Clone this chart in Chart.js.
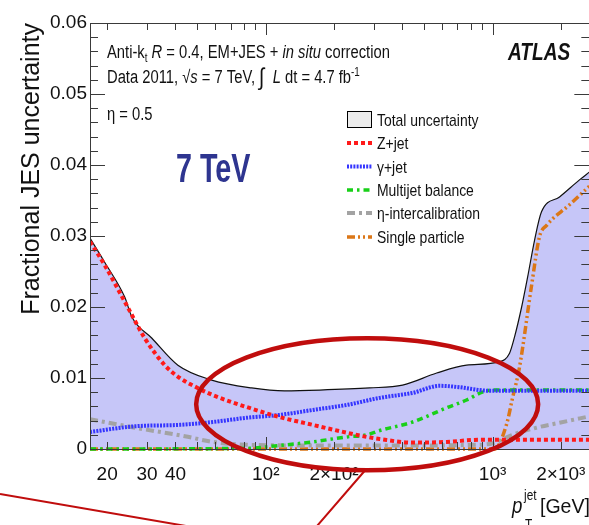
<!DOCTYPE html>
<html>
<head>
<meta charset="utf-8">
<script src="https://cdn.jsdelivr.net/npm/chart.js@4.4.1/dist/chart.umd.min.js"></script>
<style>
  html, body { margin: 0; padding: 0; background: #fff; overflow: hidden; }
  #wrap { width: 589px; height: 525px; overflow: hidden; }
</style>
</head>
<body>
<div id="wrap"><canvas id="jes" width="600" height="525"></canvas></div>
<script>
/* ===============================
   JES UNCERTAINTY COMPONENTS (eta = 0.5)
   pT in GeV, uncertainty as a fraction
================================ */
const totalPt  = [16.8, 19.5, 23.9, 25.7, 31.5, 41, 57.8, 86.7, 121, 173, 287, 401, 567, 768, 1074, 1188, 1250, 1343, 1427, 1531, 1643, 1973, 2416, 2670];
const totalUnc = [0.0297, 0.0263, 0.0214, 0.0186, 0.0156, 0.0118, 0.0097, 0.0086, 0.0082, 0.0083, 0.0086, 0.0090, 0.0107, 0.0118, 0.0123, 0.0135, 0.0158, 0.0200, 0.0242, 0.0294, 0.0334, 0.0355, 0.0379, 0.0390];

const zjetPt  = [16.8, 19.5, 24.7, 29.3, 35.9, 41.8, 50.1, 58.4, 82.5, 115, 161, 227, 279, 318, 444, 627, 877, 2670];
const zjetUnc = [0.0292, 0.0259, 0.0199, 0.0156, 0.0118, 0.0100, 0.0086, 0.0076, 0.0059, 0.0045, 0.0034, 0.0023, 0.0017, 0.0014, 0.0009, 0.0010, 0.0013, 0.0013];

const gjetPt  = [16.8, 26.5, 41.8, 58.4, 82.5, 115, 161, 227, 318, 444, 584, 715, 877, 970, 2670];
const gjetUnc = [0.0024, 0.0032, 0.0034, 0.0038, 0.0044, 0.0048, 0.0055, 0.0062, 0.0072, 0.0079, 0.0089, 0.0087, 0.0083, 0.0082, 0.0082];

const mjbPt  = [16.8, 82.5, 115, 161, 227, 279, 318, 444, 627, 768, 901, 1000, 2670];
const mjbUnc = [0, 0.0001, 0.0005, 0.0010, 0.0017, 0.0020, 0.0026, 0.0038, 0.0058, 0.0069, 0.0080, 0.0083, 0.0083];

const etaPt  = [16.8, 26.5, 44, 58.4, 82.5, 150, 400, 877, 1000, 1225, 1560, 1973, 2670];
const etaUnc = [0.0042, 0.0030, 0.0018, 0.0010, 0.0006, 0.0005, 0.0005, 0.0006, 0.0008, 0.0020, 0.0030, 0.0037, 0.0046];

const singlePt  = [16.8, 1020, 1153, 1225, 1314, 1485, 1610, 1730, 2183, 2670];
const singleUnc = [0, 0, 0.0035, 0.0072, 0.0115, 0.0230, 0.0299, 0.0315, 0.0344, 0.0370];

const seriesNames = ["Total uncertainty", "Z+jet", "\u03b3+jet", "Multijet balance", "\u03b7-intercalibration", "Single particle"];

const xTickValues = [20, 30, 40, 100, 200, 1000, 2000];
const xTickLabels = ["20", "30", "40", "10\u00b2", "2\u00d710\u00b2", "10\u00b3", "2\u00d710\u00b3"];

const SANS = '"Liberation Sans", Arial, Helvetica, sans-serif';
const RED_MARK = "#c00d0d";

function pts(xs, ys) {
  return xs.map((v, i) => ({ x: v, y: ys[i] }));
}

/* ===============================
   TEXT HELPER
   runs of text with sub/superscripts, squeezed by sx
================================ */
function drawRuns(ctx, x, y, runs, sx) {
  ctx.save();
  ctx.translate(x, y);
  ctx.scale(sx || 1, 1);
  let cx = 0;
  for (const r of runs) {
    ctx.font = r.f;
    ctx.fillText(r.t, cx, r.dy || 0);
    cx += ctx.measureText(r.t).width;
  }
  ctx.restore();
}

/* ===============================
   FRAME, INWARD TICKS
================================ */
const framePlugin = {
  id: "frame",
  afterDatasetsDraw(chart) {
    const { ctx, chartArea: a, scales: { x, y } } = chart;
    ctx.save();
    ctx.strokeStyle = "#3a3a3a";
    ctx.lineWidth = 1;
    ctx.strokeRect(a.left + 0.5, a.top + 0.5, a.right - a.left, a.bottom - a.top);

    ctx.beginPath();
    // log x ticks: 2..9 short, decades long
    for (let dec = 10; dec <= 1000; dec *= 10) {
      for (let m = 1; m <= 9; m++) {
        const v = dec * m;
        if (v < x.min || v > x.max) continue;
        const px = Math.round(x.getPixelForValue(v)) + 0.5;
        const len = m === 1 ? 12 : 7;
        ctx.moveTo(px, a.bottom); ctx.lineTo(px, a.bottom - len);
        ctx.moveTo(px, a.top); ctx.lineTo(px, a.top + len);
      }
    }
    // y ticks every 0.002, major every 0.01
    for (let k = 0; k <= 30; k++) {
      const py = Math.round(y.getPixelForValue(k * 0.002)) + 0.5;
      const len = k % 5 === 0 ? 15 : 8;
      ctx.moveTo(a.left, py); ctx.lineTo(a.left + len, py);
      ctx.moveTo(a.right, py); ctx.lineTo(a.right - len, py);
    }
    ctx.stroke();
    ctx.restore();
  }
};

/* ===============================
   LABELS, LEGEND, HIGHLIGHT
================================ */
const decorPlugin = {
  id: "decor",
  afterDraw(chart) {
    const { ctx, scales: { x, y } } = chart;
    const ds = chart.data.datasets;
    ctx.save();
    ctx.fillStyle = "#111";
    ctx.textBaseline = "alphabetic";
    ctx.textAlign = "left";

    const SQ = 0.82;
    const f = "18px " + SANS;
    const fi = "italic 18px " + SANS;
    const fs = "12px " + SANS;
    drawRuns(ctx, 107, 58, [
      { t: "Anti-k", f: f }, { t: "t", f: fs, dy: 4 }, { t: " ", f: f },
      { t: "R", f: fi }, { t: " = 0.4, EM+JES + ", f: f },
      { t: "in situ", f: fi }, { t: " correction", f: f }
    ], SQ);
    drawRuns(ctx, 107, 83, [
      { t: "Data 2011, \u221a", f: f }, { t: "s", f: fi }, { t: " = 7 TeV, ", f: f },
      { t: "\u222b", f: "24px " + SANS, dy: 2 }, { t: "  ", f: f },
      { t: "L", f: fi }, { t: " dt = 4.7 fb", f: f }, { t: "-1", f: fs, dy: -7 }
    ], SQ);
    drawRuns(ctx, 107, 120, [{ t: "\u03b7 = 0.5", f: f }], SQ);

    drawRuns(ctx, 508, 60, [{ t: "ATLAS", f: "bold italic 23px " + SANS }], 0.83);

    // big energy label
    ctx.fillStyle = "#2e3590";
    drawRuns(ctx, 176, 182, [{ t: "7 TeV", f: "bold 41px " + SANS }], 0.70);

    // legend
    const rows = [120, 143, 166.5, 190, 213, 237];
    ds.forEach((d, i) => {
      const cy = rows[i];
      if (i === 0) {
        ctx.fillStyle = "#ececec";
        ctx.fillRect(347.5, cy - 8.5, 24, 16);
        ctx.strokeStyle = "#000";
        ctx.lineWidth = 1;
        ctx.setLineDash([]);
        ctx.strokeRect(347.5, cy - 8.5, 24, 16);
      } else {
        ctx.strokeStyle = d.borderColor;
        ctx.lineWidth = d.borderWidth;
        ctx.setLineDash(d.borderDash || []);
        ctx.beginPath();
        ctx.moveTo(347, cy); ctx.lineTo(372, cy);
        ctx.stroke();
      }
      ctx.setLineDash([]);
      ctx.fillStyle = "#111";
      drawRuns(ctx, 377, cy + 6, [{ t: d.label, f: "17px " + SANS }], SQ);
    });

    // x axis title
    drawRuns(ctx, 512, 513, [{ t: "p", f: "italic 22px " + SANS }], 0.85);
    drawRuns(ctx, 524, 500, [{ t: "jet", f: "14px " + SANS }], 0.85);
    drawRuns(ctx, 525, 529, [{ t: "T", f: "14px " + SANS }], 0.85);
    drawRuns(ctx, 540, 513, [{ t: "[GeV]", f: "21px " + SANS }], 0.93);

    // highlighted region around the gamma+jet / multijet crossover
    const ex = x.getPixelForValue(280);
    const ey = y.getPixelForValue(0.0063);
    ctx.strokeStyle = RED_MARK;
    ctx.lineWidth = 4.5;
    ctx.beginPath();
    ctx.ellipse(ex, ey, 171, 66, 0, 0, Math.PI * 2);
    ctx.stroke();

    ctx.lineWidth = 2;
    ctx.beginPath();
    ctx.moveTo(0, 494); ctx.lineTo(186, 526);
    ctx.moveTo(ex - 2, ey + 66); ctx.lineTo(317, 526);
    ctx.stroke();
    ctx.restore();
  }
};

/* ===============================
   CHART
================================ */
const lineDefaults = {
  type: "line",
  pointRadius: 0,
  fill: false,
  cubicInterpolationMode: "monotone",
  borderCapStyle: "butt",
  // let the zero-level components show on the bottom axis
  clip: { left: 0, top: 0, right: 0, bottom: 4 }
};

new Chart(document.getElementById("jes"), {
  type: "line",
  data: {
    datasets: [
      { ...lineDefaults, label: seriesNames[0], data: pts(totalPt, totalUnc),
        borderColor: "#111", borderWidth: 1.2, fill: "origin",
        backgroundColor: "rgb(198,198,248)", order: 10, clip: 0 },
      { ...lineDefaults, label: seriesNames[1], data: pts(zjetPt, zjetUnc),
        borderColor: "#ff1a1a", borderWidth: 4, borderDash: [4, 3] },
      { ...lineDefaults, label: seriesNames[2], data: pts(gjetPt, gjetUnc),
        borderColor: "#3535ff", borderWidth: 4, borderDash: [2, 1.2] },
      { ...lineDefaults, label: seriesNames[3], data: pts(mjbPt, mjbUnc),
        borderColor: "#18d018", borderWidth: 3.5, borderDash: [6, 4, 2.5, 4] },
      { ...lineDefaults, label: seriesNames[4], data: pts(etaPt, etaUnc),
        borderColor: "#a3a3a3", borderWidth: 4, borderDash: [8, 4, 3, 4] },
      { ...lineDefaults, label: seriesNames[5], data: pts(singlePt, singleUnc),
        borderColor: "#db7718", borderWidth: 3.5, borderDash: [8, 3, 2, 3, 2, 3] }
    ]
  },
  options: {
    responsive: false,
    animation: false,
    layout: { padding: { left: 0, top: 23, right: 10, bottom: 0 } },
    plugins: {
      legend: { display: false },
      tooltip: { enabled: false }
    },
    scales: {
      x: {
        type: "logarithmic",
        min: 16.8,
        max: 2670,
        grid: { display: false, drawTicks: false },
        border: { display: false },
        afterBuildTicks: (s) => { s.ticks = xTickValues.map(v => ({ value: v })); },
        afterFit: (s) => { s.height = 76; },
        ticks: {
          autoSkip: false,
          maxRotation: 0,
          padding: 14,
          color: "#111",
          font: { family: SANS, size: 19 },
          callback: (v) => {
            const i = xTickValues.indexOf(v);
            return i >= 0 ? xTickLabels[i] : "";
          }
        }
      },
      y: {
        min: 0,
        max: 0.06,
        grid: { display: false, drawTicks: false },
        border: { display: false },
        afterFit: (s) => { s.width = 90; },
        ticks: {
          stepSize: 0.01,
          padding: 3,
          color: "#111",
          font: { family: SANS, size: 19 },
          callback: (v) => (Math.abs(v) < 1e-9 ? "0" : v.toFixed(2))
        },
        title: {
          display: true,
          text: "Fractional JES uncertainty",
          align: "end",
          color: "#111",
          padding: { top: 17, bottom: 0 },
          font: { family: SANS, size: 25 }
        }
      }
    }
  },
  plugins: [framePlugin, decorPlugin]
});
</script>
</body>
</html>
